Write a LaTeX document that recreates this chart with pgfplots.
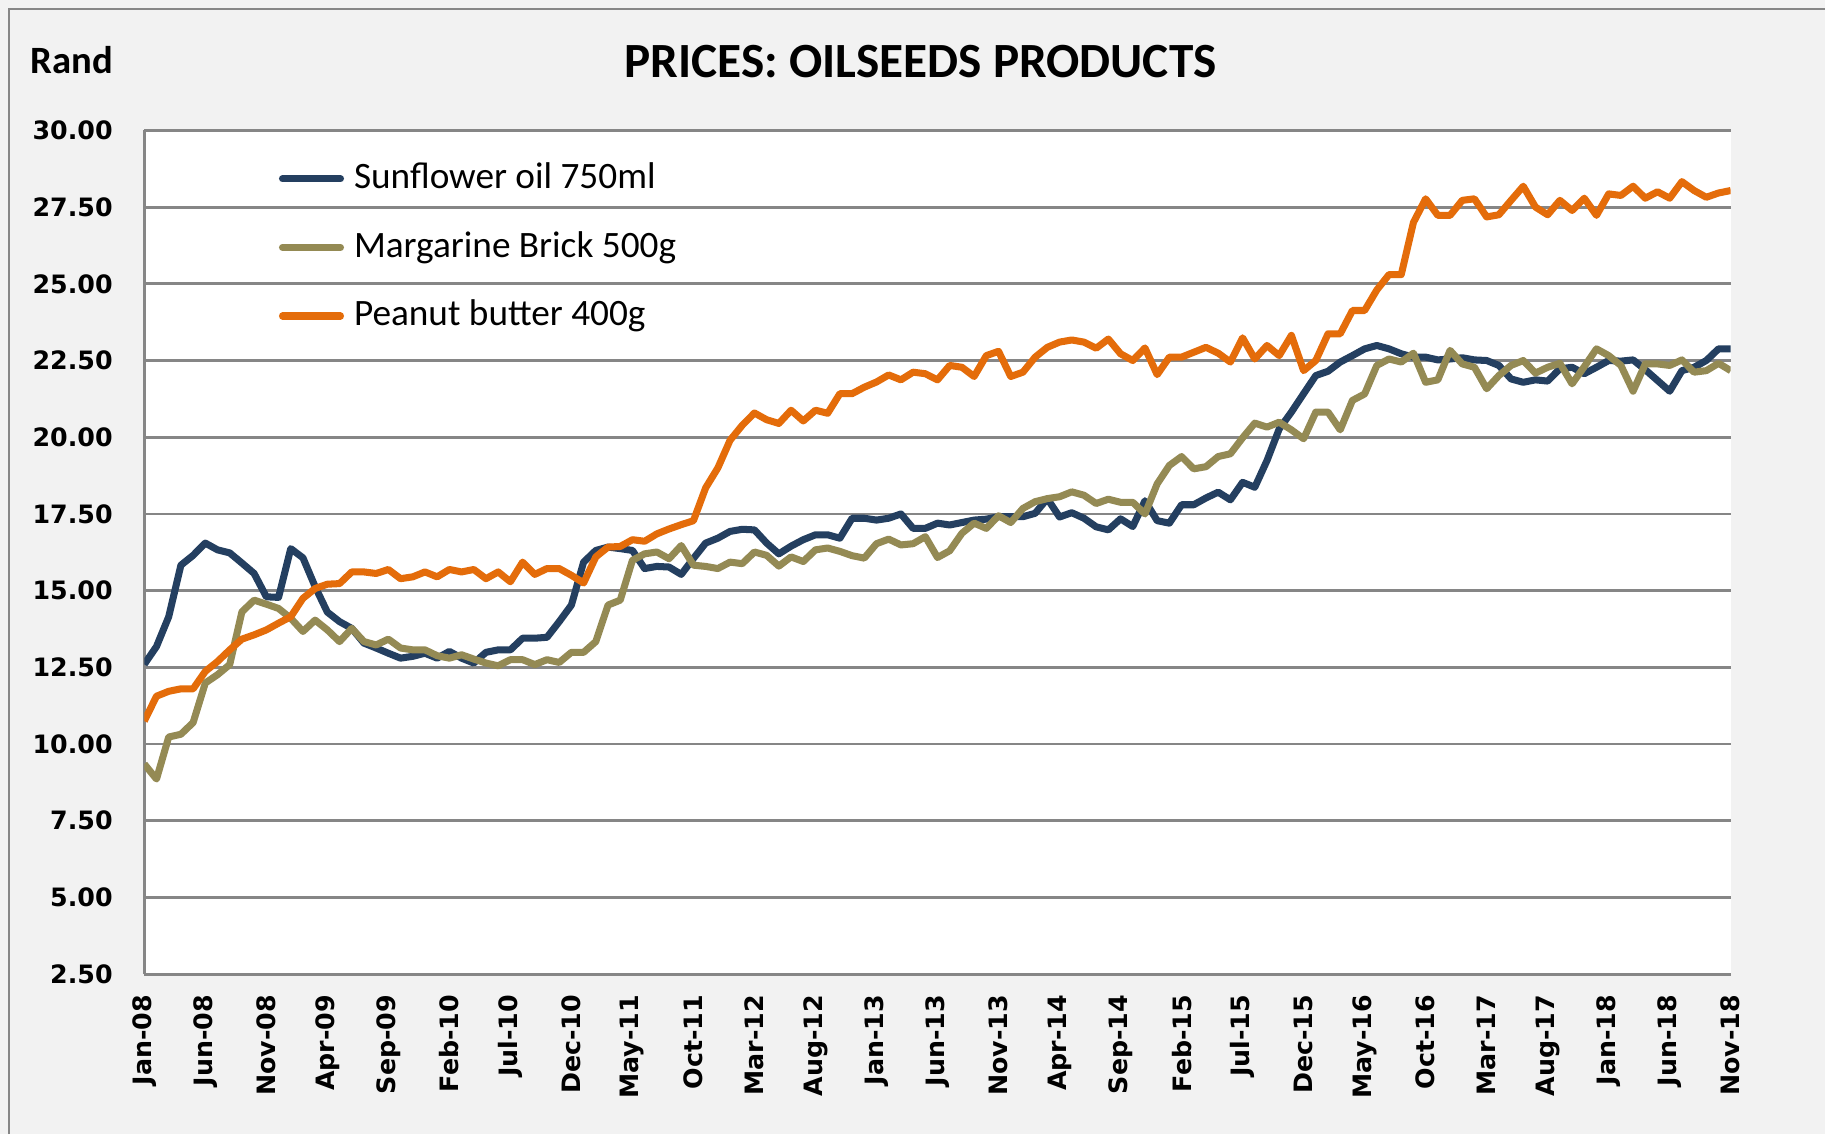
\documentclass[border=0pt]{standalone}
\usepackage{fontspec}
\setmainfont{Carlito}
\newfontfamily\tickfont{DejaVu Sans}
\usepackage{pgfplots}
\pgfplotsset{compat=1.18}
\usepackage{pgfplotstable}

\definecolor{sunblue}{RGB}{36,63,96}
\definecolor{margkhaki}{RGB}{148,138,84}
\definecolor{pborange}{RGB}{228,108,10}
\definecolor{gridgray}{RGB}{134,134,134}
\definecolor{bggray}{RGB}{242,242,242}

% month index (0 = Jan-08), prices in Rand
\pgfplotstableread{
i sun mar pb
0 12.60 9.35 10.75
1 13.18 8.86 11.56
2 14.15 10.23 11.72
3 15.83 10.32 11.80
4 16.15 10.70 11.80
5 16.55 11.99 12.37
6 16.33 12.26 12.69
7 16.23 12.59 13.07
8 15.90 14.31 13.42
9 15.56 14.69 13.56
10 14.80 14.56 13.72
11 14.78 14.42 13.94
12 16.37 14.10 14.15
13 16.07 13.67 14.75
14 15.13 14.04 15.07
15 14.30 13.72 15.21
16 13.99 13.34 15.23
17 13.77 13.77 15.61
18 13.29 13.34 15.61
19 13.13 13.23 15.56
20 12.96 13.42 15.69
21 12.80 13.13 15.39
22 12.86 13.07 15.45
23 12.96 13.07 15.61
24 12.80 12.88 15.45
25 13.02 12.80 15.69
26 12.80 12.91 15.61
27 12.64 12.77 15.69
28 12.99 12.64 15.39
29 13.07 12.55 15.61
30 13.07 12.75 15.29
31 13.45 12.75 15.93
32 13.45 12.59 15.53
33 13.48 12.75 15.72
34 13.99 12.66 15.72
35 14.53 12.99 15.50
36 15.93 12.99 15.25
37 16.31 13.34 16.10
38 16.42 14.53 16.42
39 16.37 14.69 16.44
40 16.31 15.99 16.66
41 15.72 16.20 16.61
42 15.79 16.26 16.85
43 15.77 16.04 17.01
44 15.53 16.47 17.15
45 16.05 15.83 17.28
46 16.55 15.79 18.35
47 16.71 15.72 19.00
48 16.93 15.93 19.90
49 17.00 15.88 20.39
50 16.98 16.26 20.79
51 16.55 16.15 20.57
52 16.20 15.80 20.45
53 16.45 16.10 20.88
54 16.66 15.95 20.53
55 16.82 16.33 20.88
56 16.82 16.39 20.78
57 16.71 16.28 21.42
58 17.36 16.14 21.42
59 17.36 16.06 21.63
60 17.30 16.53 21.80
61 17.36 16.68 22.03
62 17.50 16.49 21.87
63 17.03 16.53 22.12
64 17.03 16.76 22.07
65 17.20 16.08 21.87
66 17.14 16.30 22.34
67 17.22 16.87 22.28
68 17.30 17.20 21.98
69 17.33 17.03 22.66
70 17.41 17.44 22.80
71 17.41 17.22 21.98
72 17.41 17.68 22.12
73 17.52 17.90 22.61
74 18.00 18.00 22.93
75 17.40 18.06 23.10
76 17.54 18.22 23.17
77 17.36 18.11 23.10
78 17.08 17.84 22.90
79 16.98 17.98 23.20
80 17.34 17.88 22.72
81 17.09 17.88 22.50
82 17.93 17.50 22.91
83 17.28 18.48 22.04
84 17.20 19.08 22.61
85 17.80 19.37 22.61
86 17.80 18.97 22.77
87 18.02 19.04 22.93
88 18.21 19.37 22.74
89 17.96 19.46 22.45
90 18.53 19.98 23.24
91 18.37 20.46 22.55
92 19.24 20.33 22.99
93 20.27 20.49 22.66
94 20.82 20.24 23.32
95 21.42 19.95 22.17
96 22.01 20.82 22.50
97 22.15 20.82 23.37
98 22.45 20.24 23.37
99 22.66 21.20 24.13
100 22.88 21.41 24.13
101 22.99 22.34 24.80
102 22.88 22.55 25.30
103 22.72 22.45 25.30
104 22.61 22.74 27.00
105 22.61 21.79 27.77
106 22.52 21.87 27.23
107 22.55 22.83 27.23
108 22.59 22.39 27.72
109 22.52 22.28 27.77
110 22.50 21.58 27.18
111 22.34 22.01 27.25
112 21.90 22.34 27.72
113 21.79 22.50 28.18
114 21.87 22.09 27.50
115 21.83 22.28 27.25
116 22.23 22.41 27.72
117 22.28 21.74 27.39
118 22.07 22.30 27.79
119 22.28 22.88 27.23
120 22.50 22.66 27.93
121 22.48 22.34 27.88
122 22.52 21.50 28.18
123 22.20 22.39 27.79
124 21.85 22.39 28.00
125 21.50 22.34 27.79
126 22.17 22.52 28.33
127 22.28 22.12 28.04
128 22.50 22.17 27.82
129 22.88 22.41 27.96
130 22.88 22.17 28.04
}\prices

\begin{document}
\begin{tikzpicture}
\fill[bggray] (0,0) rectangle (18.25,11.34);
\useasboundingbox (0,0) rectangle (18.25,11.34);
\draw[gridgray, line width=0.8pt] (0.09,0) -- (0.09,11.25) -- (18.25,11.25);
\node[font=\bfseries\fontsize{11}{13}\selectfont] at (0.72,10.735) {Rand};
\node[font=\bfseries\fontsize{14}{17}\selectfont] at (9.206,10.723) {PRICES: OILSEEDS PRODUCTS};

\begin{axis}[
    at={(1.443cm,1.598cm)}, anchor=south west,
    scale only axis, width=15.864cm, height=8.438cm,
    xmin=0, xmax=130, ymin=2.5, ymax=30,
    axis background/.style={fill=white},
    axis x line*=bottom, axis y line*=left,
    axis line style={gridgray, line width=0.8pt},
    ytick={2.5,5,...,30},
    xtick={0,5,...,130},
    xticklabels={Jan-08,Jun-08,Nov-08,Apr-09,Sep-09,Feb-10,Jul-10,Dec-10,May-11,Oct-11,Mar-12,Aug-12,Jan-13,Jun-13,Nov-13,Apr-14,Sep-14,Feb-15,Jul-15,Dec-15,May-16,Oct-16,Mar-17,Aug-17,Jan-18,Jun-18,Nov-18},
    ymajorgrids, grid style={gridgray, line width=0.8pt},
    major tick length=0pt,
    tick label style={font=\tickfont\bfseries\fontsize{7.2}{8}\selectfont},
    yticklabel style={inner sep=0pt, xshift=-0.31cm,
        /pgf/number format/fixed, /pgf/number format/fixed zerofill,
        /pgf/number format/precision=2, /pgf/number format/assume math mode=true},
    xticklabel style={inner sep=0pt, yshift=-0.2cm, rotate=90, anchor=east},
    legend style={draw=none, fill=none, at={(0.0849,0.9645)}, anchor=north west,
        inner sep=0pt, outer sep=0pt, row sep=0.317cm, column sep=0.1cm,
        font=\fontsize{10.6}{13}\selectfont,
        nodes={inner sep=0pt, text height=8pt, text depth=2.5pt}},
    legend cell align=left,
    legend image code/.code={\draw[#1, line cap=round] (0cm,0cm) -- (0.58cm,0cm);},
    every axis plot/.append style={line width=2pt, line join=round, no markers},
]
\addplot[sunblue] table[x=i, y=sun] {\prices};
\addplot[margkhaki] table[x=i, y=mar] {\prices};
\addplot[pborange] table[x=i, y=pb] {\prices};
\legend{Sunflower oil 750ml, Margarine Brick 500g, Peanut butter 400g}
\end{axis}
\end{tikzpicture}
\end{document}
